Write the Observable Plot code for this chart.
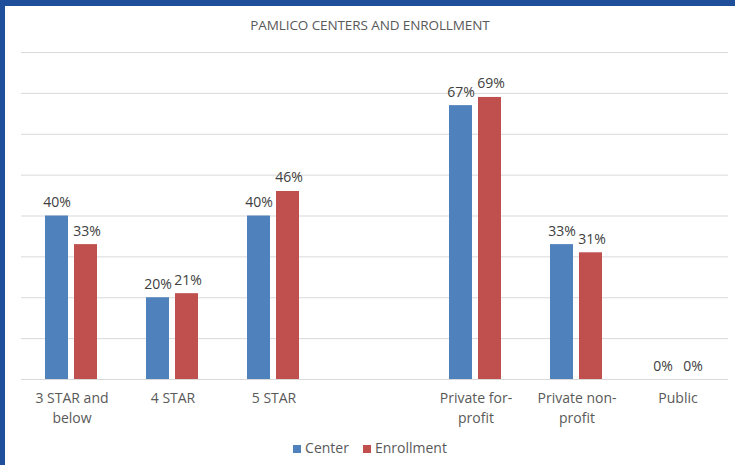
<!DOCTYPE html>
<html><head><meta charset="utf-8">
<script src="https://cdn.jsdelivr.net/npm/d3@7"></script>
<script src="https://cdn.jsdelivr.net/npm/@observablehq/plot@0.6"></script>
<style>
body{margin:0;background:#fff;}
#wrap{position:relative;width:735px;height:465px;box-sizing:border-box;border-left:5px solid #1F4E9B;border-top:6px solid #1F4E9B;font-family:"Open Sans",sans-serif;overflow:hidden;}
#title{position:absolute;left:0;right:0;top:10px;text-align:center;font-size:13.5px;color:#595959;letter-spacing:-0.1px;font-weight:500;}
#chart{position:absolute;left:0;top:29px;}
#legend{position:absolute;left:0;right:0;top:432px;text-align:center;font-size:14px;color:#595959;}
#legend span.sw{display:inline-block;width:8px;height:8px;margin-right:4px;vertical-align:0px;}
#legend span.it{margin:0 7px;}
</style></head>
<body>
<div id="wrap">
<div id="title">PAMLICO CENTERS AND ENROLLMENT</div>
<div id="chart"></div>
<div id="legend"></div>
</div>
<script>
const categories = ["3 STAR and below","4 STAR","5 STAR"," ","Private for-profit","Private non-profit","Public"];
const tickLabels = ["3 STAR and\nbelow","4 STAR","5 STAR","","Private for-\nprofit","Private non-\nprofit","Public"];
const dataCategories = ["3 STAR and below","4 STAR","5 STAR","Private for-profit","Private non-profit","Public"];
const centerValues = [40,20,40,67,33,0];
const enrollmentValues = [33,21,46,69,31,0];
const seriesNames = ["Center","Enrollment"];
const seriesColors = ["#4F81BD","#C0504D"];
const gridTicks = [0,10,20,30,40,50,60,70,80];

const center = dataCategories.map((c,i)=>({cat:c, v:centerValues[i]}));
const enroll = dataCategories.map((c,i)=>({cat:c, v:enrollmentValues[i]}));
const labelMap = new Map(categories.map((c,i)=>[c,tickLabels[i]]));

const font = '"Open Sans",sans-serif';
const chart = Plot.plot({
  width: 730, height: 400,
  marginLeft: 16, marginRight: 7, marginTop: 17, marginBottom: 56,
  style: {fontFamily: font, fontSize: "14px", color: "#595959", background: "transparent"},
  x: {domain: categories, padding: 0, label: null},
  y: {domain: [0,80], axis: null},
  marks: [
    Plot.ruleY(gridTicks, {stroke: "#D9D9D9", strokeWidth: 1}),
    Plot.axisX({tickSize: 0, tickPadding: 10, lineHeight: 1.38, fontSize: 14, fill: "#595959", label: null, tickFormat: d => labelMap.get(d)}),
    Plot.barY(center, {x: "cat", y: "v", fill: seriesColors[0], insetLeft: 24, insetRight: 54}),
    Plot.barY(enroll, {x: "cat", y: "v", fill: seriesColors[1], insetLeft: 53, insetRight: 25}),
    Plot.text(center, {x: "cat", y: "v", text: d => d.v + "%", dx: -15, dy: -9, lineAnchor: "bottom", fill: "#404040", fontSize: 14}),
    Plot.text(enroll, {x: "cat", y: "v", text: d => d.v + "%", dx: 15, dy: -9, lineAnchor: "bottom", fill: "#404040", fontSize: 14})
  ]
});
document.getElementById("chart").appendChild(chart);
document.getElementById("legend").innerHTML = seriesNames.map((n,i)=>
  `<span class="it"><span class="sw" style="background:${seriesColors[i]}"></span>${n}</span>`).join("");
</script>
</body></html>
